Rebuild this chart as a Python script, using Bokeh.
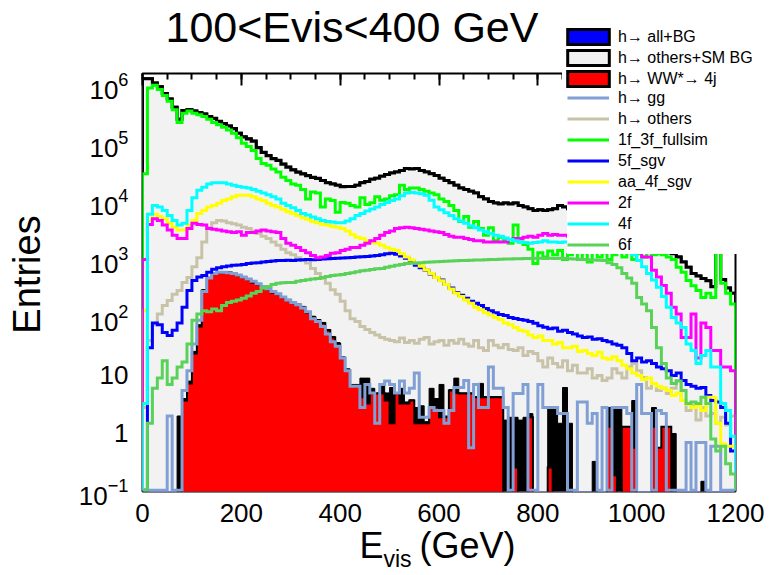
import numpy as np
from bokeh.plotting import figure
from bokeh.layouts import column
from bokeh.models import (Range1d, LinearAxis, FixedTicker, Legend, LegendItem, Label)
from bokeh.embed import file_html
from bokeh.resources import INLINE

# ---------------- data (10 GeV bins, 0..1200 GeV) ----------------
bin_edges = np.arange(0, 1210, 10)

total_all_bg = [
    1.3e6, 1.3e6, 1.1e6, 9.5e5, 7.2e5, 5.8e5, 4.2e5, 2.6e5, 3.7e5, 3.8e5,
    3.6e5, 3.4e5, 3.2e5, 2.9e5, 2.7e5, 2.4e5, 2.2e5, 2.0e5, 1.8e5, 1.5e5,
    1.3e5, 1.2e5, 1.1e5, 8.5e4, 7.0e4, 6.2e4, 5.5e4, 5.1e4, 4.4e4, 3.9e4,
    3.5e4, 3.2e4, 3.0e4, 2.8e4, 2.6e4, 2.5e4, 2.3e4, 2.1e4, 2.0e4, 1.9e4,
    1.8e4, 1.8e4, 1.8e4, 1.9e4, 2.1e4, 2.2e4, 2.4e4, 2.5e4, 2.7e4, 2.9e4,
    3.1e4, 3.2e4, 3.4e4, 3.7e4, 3.6e4, 3.7e4, 3.4e4, 3.2e4, 3.0e4, 2.8e4,
    2.5e4, 2.3e4, 2.1e4, 1.9e4, 1.7e4, 1.6e4, 1.5e4, 1.4e4, 1.2e4, 1.1e4,
    1.0e4, 9.4e3, 9.0e3, 9.4e3, 9.0e3, 9.4e3, 8.5e3, 8.0e3, 7.5e3, 7.0e3,
    7.2e3, 7.0e3, 7.2e3, 7.5e3, 8.5e3, 8.0e3, 7.5e3, 7.0e3, 7.0e3, 6.8e3,
    6.5e3, 6.2e3, 6.0e3, 5.8e3, 5.5e3, 5.2e3, 5.0e3, 4.6e3, 4.3e3, 4.0e3,
    3.6e3, 3.2e3, 2.8e3, 2.4e3, 2.0e3, 1.6e3, 1.3e3, 1.25e3, 1.1e3, 900,
    730, 570, 520, 470, 430, 340, 1.4e3, 450, 320, 260]

f1f_3f_fullsim = [
    3.0e4, 9.0e5, 1.0e6, 8.5e5, 6.7e5, 5.3e5, 3.8e5, 2.3e5, 3.3e5, 3.6e5,
    3.3e5, 3.1e5, 2.9e5, 2.6e5, 2.3e5, 2.1e5, 1.9e5, 1.7e5, 1.5e5, 1.25e5,
    1.0e5, 8.8e4, 7.5e4, 5.5e4, 4.5e4, 4.2e4, 3.6e4, 3.2e4, 2.6e4, 2.3e4,
    2.0e4, 1.9e4, 1.6e4, 1.1e4, 1.45e4, 1.4e4, 8.0e3, 1.1e4, 1.04e4, 6.5e3,
    9.6e3, 9.3e3, 8.5e3, 8.0e3, 1.15e4, 8.8e3, 9.5e3, 1.2e4, 1.05e4, 1.1e4,
    1.25e4, 1.3e4, 1.9e4, 1.6e4, 1.7e4, 1.7e4, 1.6e4, 1.5e4, 1.4e4, 1.3e4,
    1.1e4, 1.0e4, 8.5e3, 7.0e3, 4.5e3, 5.5e3, 3.6e3, 4.5e3, 3.4e3, 2.6e3,
    3.5e3, 2.1e3, 2.4e3, 2.2e3, 1.9e3, 3.9e3, 2.0e3, 1.8e3, 1.5e3, 850,
    1.3e3, 1.1e3, 1.4e3, 1.2e3, 1.43e3, 1.0e3, 1.2e3, 1.5e3, 1.0e3, 1.3e3,
    900, 1.4e3, 1.1e3, 1.3e3, 1.0e3, 1.2e3, 1.4e3, 1.1e3, 1.3e3, 1.0e3,
    1.25e3, 1.1e3, 1.3e3, 1.2e3, 1.25e3, 1.2e3, 1.1e3, 1.0e3, 730, 600,
    435, 350, 290, 220, 260, 220, 1.3e3, 390, 260, 170]

f4f = [
    3.3, 6.0e3, 8.5e3, 8.0e3, 7.0e3, 5.7e3, 4.7e3, 3.9e3, 4.2e3, 7.0e3,
    1.15e4, 1.55e4, 1.75e4, 2.0e4, 2.1e4, 2.1e4, 2.1e4, 2.0e4, 1.9e4, 1.8e4,
    1.75e4, 1.7e4, 1.6e4, 1.5e4, 1.4e4, 1.3e4, 1.2e4, 1.1e4, 9.3e3, 8.5e3,
    7.8e3, 7.0e3, 6.2e3, 5.8e3, 5.4e3, 5.0e3, 4.7e3, 4.5e3, 4.4e3, 4.3e3,
    4.3e3, 4.6e3, 5.0e3, 5.7e3, 6.2e3, 6.8e3, 7.4e3, 8.0e3, 8.8e3, 9.6e3,
    1.04e4, 1.1e4, 1.25e4, 1.4e4, 1.42e4, 1.4e4, 1.35e4, 1.27e4, 1.05e4, 8.0e3,
    7.2e3, 6.4e3, 5.7e3, 5.0e3, 4.6e3, 4.2e3, 3.8e3, 3.5e3, 3.2e3, 3.0e3,
    2.8e3, 2.6e3, 2.5e3, 2.35e3, 2.2e3, 2.1e3, 2.0e3, 1.95e3, 1.9e3, 1.95e3,
    2.0e3, 2.1e3, 2.0e3, 2.0e3, 1.95e3, 2.0e3, 2.0e3, 1.95e3, 2.0e3, 1.9e3,
    1.95e3, 1.9e3, 1.85e3, 1.8e3, 1.8e3, 1.7e3, 1.6e3, 1.5e3, 1.43e3, 1.2e3,
    960, 750, 570, 440, 330, 230, 150, 100, 80, 67,
    35, 27, 16, 22, 27, 14, 14, 3.3, 2.5, 0.9]

aa_4f_sgv = [
    130, 4.7e3, 6.0e3, 5.5e3, 5.0e3, 4.2e3, 3.6e3, 3.2e3, 3.2e3, 3.9e3,
    4.7e3, 6.2e3, 7.0e3, 8.0e3, 8.5e3, 9.3e3, 1.04e4, 1.1e4, 1.2e4, 1.27e4,
    1.27e4, 1.27e4, 1.2e4, 1.1e4, 1.04e4, 9.3e3, 8.5e3, 8.0e3, 7.3e3, 6.6e3,
    6.2e3, 5.7e3, 5.2e3, 4.9e3, 4.5e3, 4.3e3, 4.0e3, 3.9e3, 3.7e3, 3.6e3,
    3.4e3, 3.1e3, 2.7e3, 2.4e3, 2.3e3, 2.1e3, 2.0e3, 1.9e3, 1.75e3, 1.6e3,
    1.5e3, 1.43e3, 1.25e3, 1.1e3, 980, 870, 760, 660, 570, 490,
    430, 370, 310, 260, 230, 200, 175, 150, 135, 120,
    110, 100, 92, 80, 75, 67, 60, 58, 50, 45,
    48, 40, 40, 35, 37, 30, 30, 32, 26, 27,
    24, 22, 25, 20, 19, 21, 18, 15, 13, 11,
    10, 8.5, 9, 7.3, 6.5, 6, 5.5, 4.5, 5, 3.7,
    3.2, 2.8, 3, 2.5, 4.2, 4.2, 1.5, 0.66, 0.6, 0.6]

f2f = [
    1.0e3, 4.0e3, 5.0e3, 4.7e3, 3.9e3, 3.2e3, 2.6e3, 2.3e3, 2.3e3, 3.4e3,
    4.2e3, 4.0e3, 3.9e3, 3.4e3, 3.3e3, 3.2e3, 3.1e3, 3.0e3, 2.9e3, 3.0e3,
    2.6e3, 2.9e3, 2.9e3, 3.1e3, 3.2e3, 3.1e3, 3.0e3, 2.9e3, 2.3e3, 1.9e3,
    1.75e3, 1.6e3, 1.43e3, 1.3e3, 1.17e3, 1.07e3, 1.1e3, 1.17e3, 1.28e3, 1.3e3,
    1.43e3, 1.5e3, 1.6e3, 1.6e3, 1.75e3, 1.9e3, 2.1e3, 2.3e3, 2.6e3, 2.9e3,
    3.1e3, 3.4e3, 3.5e3, 3.6e3, 3.5e3, 3.4e3, 3.3e3, 3.2e3, 3.1e3, 3.0e3,
    2.9e3, 2.7e3, 2.5e3, 2.4e3, 2.4e3, 2.3e3, 2.2e3, 2.1e3, 2.1e3, 2.0e3,
    2.0e3, 2.0e3, 2.0e3, 2.0e3, 2.2e3, 2.3e3, 2.3e3, 2.4e3, 2.5e3, 2.4e3,
    2.6e3, 2.8e3, 2.6e3, 2.7e3, 2.6e3, 2.6e3, 2.5e3, 2.7e3, 2.6e3, 2.5e3,
    2.6e3, 2.4e3, 2.5e3, 2.4e3, 2.3e3, 2.3e3, 2.2e3, 2.0e3, 1.9e3, 1.7e3,
    1.43e3, 1.1e3, 1.1e3, 650, 500, 355, 260, 150, 115, 45,
    45, 115, 20, 80, 67, 27, 27, 14, 14, 12]

f5f_sgv = [
    0, 30, 80, 75, 55, 49, 60, 80, 150, 290,
    435, 500, 530, 600, 680, 720, 750, 770, 790, 800,
    820, 850, 870, 880, 900, 920, 940, 960, 960, 970,
    960, 980, 990, 1000, 990, 1000, 1020, 1030, 1040, 1050,
    1060, 1070, 1080, 1100, 1110, 1120, 1150, 1170, 1200, 1250,
    1280, 1230, 1150, 1050, 920, 790, 720, 650, 560, 490,
    440, 370, 320, 270, 240, 215, 190, 175, 160, 143,
    130, 120, 112, 108, 100, 96, 92, 89, 85, 79,
    72, 68, 64, 66, 58, 60, 55, 52, 48, 45,
    46, 42, 43, 40, 38, 35, 33, 30, 24, 18,
    20, 17, 18, 16, 14, 13, 12, 10, 11, 8.2,
    7, 6.5, 6, 6.2, 4.5, 3.7, 3.5, 2.8, 1.5, 0.5]

f6f = [
    0, 1.5, 6, 9, 18, 7, 9, 14, 17, 35,
    89, 115, 130, 125, 140, 130, 160, 180, 190, 200,
    215, 235, 260, 280, 320, 340, 370, 390, 395, 400,
    400, 420, 435, 445, 460, 470, 490, 510, 530, 540,
    550, 570, 590, 610, 640, 650, 670, 690, 700, 730,
    760, 790, 820, 850, 860, 870, 880, 890, 900, 910,
    920, 930, 940, 950, 960, 960, 970, 975, 980, 990,
    1000, 1000, 1010, 1020, 1020, 1030, 1030, 1040, 1040, 1050,
    1050, 1040, 1050, 1040, 1050, 1040, 1030, 1020, 1010, 1000,
    990, 980, 970, 960, 880, 820, 720, 570, 480, 390,
    220, 170, 130, 67, 30, 16, 9, 7.3, 8, 5.5,
    3.3, 3.5, 3.3, 4.2, 3.3, 0.8, 0.5, 0.6, 0.3, 0.2]

h_others = [
    2.8, 40, 75, 115, 160, 196, 250, 290, 400, 490,
    750, 1.07e3, 2.0e3, 3.5e3, 4.3e3, 4.7e3, 4.6e3, 4.3e3, 4.1e3, 3.9e3,
    3.6e3, 3.4e3, 3.1e3, 2.8e3, 2.5e3, 2.3e3, 2.0e3, 1.75e3, 1.5e3, 1.3e3,
    1.2e3, 1.07e3, 960, 870, 700, 570, 470, 390, 300, 250,
    190, 130, 95, 85, 70, 62, 55, 50, 45, 42,
    40, 38, 44, 37, 40, 36, 42, 45, 35, 38,
    40, 33, 40, 36, 42, 35, 32, 40, 30, 27,
    40, 33, 30, 34, 28, 27, 30, 22, 26, 24,
    18, 14, 20, 16, 14, 18, 12, 15, 11, 11,
    13, 9, 10, 8.2, 9, 13, 11, 9, 14, 16,
    12, 9.2, 6, 7.3, 5.5, 6, 4.9, 6, 8.2, 3.7,
    2.5, 3, 1.7, 2.8, 2, 2.2, 1.5, 1.9, 1.4, 2.0]

h_ww_4j = [
    0, 0, 0, 0, 0, 0, 0, 0, 3.7, 7.3,
    24, 70, 290, 480, 570, 590, 600, 600, 570, 530,
    490, 450, 400, 370, 330, 300, 270, 250, 220, 200,
    180, 165, 150, 120, 100, 89, 79, 60, 45, 35,
    20, 12, 6.7, 6.5, 4.2, 3.3, 4.9, 4.9, 4.9, 3.7,
    1.5, 4.9, 3.3, 3.3, 3.7, 1.5, 1.5, 1.5, 2.8, 2.8,
    1.9, 1.9, 5.5, 5.0, 4.9, 4.9, 4.9, 4.2, 4.2, 4.2,
    4.2, 4.2, 4.2, 0, 0, 0.26, 0, 0, 1.9, 0,
    0, 0, 0.26, 0, 0, 0, 0, 0, 0, 0,
    0, 0, 0, 0, 1.3, 0.19, 0, 1.3, 1.3, 0.57,
    0, 0, 0, 1.3, 0.57, 1.3, 1.3, 0, 0, 0,
    0, 0, 0, 0, 0, 0, 0, 0, 0, 0]

h_all_signal = [
    0, 0, 0, 0, 0, 0, 0, 2.0, 4.0, 8.0,
    26, 75, 300, 490, 580, 600, 610, 610, 580, 540,
    500, 460, 410, 380, 340, 310, 280, 255, 225, 205,
    185, 170, 155, 125, 105, 92, 82, 62, 47, 37,
    21, 13, 7, 7, 9, 9, 6, 5, 7, 5,
    6.2, 5, 6, 3.5, 3.8, 2.8, 3, 1.6, 6, 4,
    7, 2, 5.7, 9, 5, 5, 5, 4.3, 7.3, 4.3,
    4.3, 4.3, 4.3, 1.7, 1.9, 1.9, 1.7, 1.9, 2.2, 0,
    0, 0, 2.8, 2.8, 1.5, 6.2, 1.5, 0, 0, 0,
    0, 0.33, 0, 0, 2.8, 2.8, 2.8, 1.3, 1.3, 3.7,
    0, 0, 0, 2.8, 0.57, 1.3, 1.3, 1.0, 0, 0,
    0, 0, 0, 0.15, 0, 0, 0, 0, 0, 0]

h_gg = [
    0, 0, 0, 0, 0, 2.0, 0, 0, 5.5, 12,
    35, 89, 280, 480, 570, 600, 600, 590, 570, 540,
    500, 460, 420, 380, 340, 310, 280, 255, 225, 200,
    180, 165, 145, 125, 95, 85, 70, 52, 38, 32,
    20, 12, 6.5, 6.5, 2.8, 7, 5, 1.5, 7, 8,
    7, 5, 8, 5, 6, 11, 1.9, 1.9, 2.8, 2.5,
    2.5, 1.5, 2.5, 6.2, 6.2, 8.2, 0.57, 7, 2.8, 2.8,
    14, 6, 6, 2.8, 0, 4.9, 4.9, 7, 0, 0,
    7, 2.8, 2.8, 2.8, 2.2, 2.2, 0, 0, 3.5, 3.5,
    1.5, 2.2, 0, 2.8, 0, 2.8, 2.8, 2.8, 2.2, 0,
    7, 2.2, 2.2, 0, 2.5, 2.2, 0, 0, 0, 0,
    0.7, 0, 0.7, 0.7, 0, 0.6, 0.6, 0, 0, 0]

x_tick_values = [0, 200, 400, 600, 800, 1000, 1200]
x_minor_tick_values = list(range(0, 1201, 50))
y_tick_values = [0.1, 1, 10, 100, 1000, 1e4, 1e5, 1e6]
y_plain_labels = {1: "1", 10: "10"}

title_text = "100<Evis<400 GeV"
y_title = "Entries"
x_title_parts = ["E", "vis", "(GeV)"]

box_labels = ["h\u2192 all+BG", "h\u2192 others+SM BG", "h\u2192 WW*\u2192 4j"]
line_labels = ["h\u2192 gg", "h\u2192 others", "1f_3f_fullsim", "5f_sgv",
               "aa_4f_sgv", "2f", "4f", "6f"]
box_colors = ["#0000ff", "#f2f2f2", "#ff0000"]
line_colors = ["#809fd4", "#c8c3a8", "#00ff00", "#0000ff",
               "#ffff00", "#ff00ff", "#00ffff", "#5ad25a"]

# ---------------- helpers ----------------
LINE_FLOOR = 0.105
FILL_FLOOR = 1e-3
FONT = "Liberation Sans"
W, H = 771, 575

def step_outline(vals, floor):
    v = np.maximum(np.asarray(vals, dtype=float), floor)
    xs = np.repeat(bin_edges.astype(float), 2)
    ys = np.concatenate([[floor], np.repeat(v, 2), [floor]])
    return xs, ys

# ---------------- main plot ----------------
p = figure(width=W, height=H, x_range=Range1d(0, 1200),
           y_range=Range1d(0.1, 1.6e6), y_axis_type="log",
           output_backend="svg", toolbar_location=None,
           min_border_left=142, min_border_right=36,
           min_border_top=73, min_border_bottom=84)
p.frame_align = False
p.xgrid.visible = False
p.ygrid.visible = False
p.background_fill_color = "white"
p.border_fill_color = "white"
p.outline_line_color = "black"
p.outline_line_width = 2

xa = p.xaxis[0]
xa.ticker = FixedTicker(ticks=x_tick_values)
xa.major_tick_out = 0
xa.major_tick_in = 0
xa.minor_tick_out = 0
xa.minor_tick_in = 0
xa.axis_line_color = None
xa.major_label_text_font = FONT
xa.major_label_text_font_size = "26px"
xa.major_label_text_color = "black"
xa.major_label_standoff = 12

ya = p.yaxis[0]
ya.ticker = FixedTicker(ticks=y_tick_values)
ya.major_tick_out = 0
ya.major_tick_in = 0
ya.minor_tick_out = 0
ya.minor_tick_in = 0
ya.axis_line_color = None
ya.major_label_text_font = FONT
ya.major_label_text_font_size = "26px"
ya.major_label_text_color = "black"
ya.major_label_standoff = 14
ya.major_label_overrides = y_plain_labels

top = LinearAxis(ticker=FixedTicker(ticks=x_tick_values, minor_ticks=x_minor_tick_values),
                 major_tick_in=12, major_tick_out=0, minor_tick_in=6, minor_tick_out=0,
                 major_tick_line_width=2, minor_tick_line_width=2,
                 axis_line_color=None, major_label_text_font_size="1px",
                 major_label_text_color=None, major_label_standoff=0)
p.add_layout(top, "above")

# stacked background (all+BG, then others+SM BG on top)
xs, ys = step_outline(total_all_bg, FILL_FLOOR)
p.patch(xs, ys, fill_color=box_colors[0], line_color="black", line_width=3, line_join="miter")
bg_only = np.maximum(np.asarray(total_all_bg) - np.asarray(h_ww_4j) - np.asarray(h_gg), 0)
xs, ys = step_outline(bg_only, FILL_FLOOR)
p.patch(xs, ys, fill_color=box_colors[1], line_color="black", line_width=3, line_join="miter")

# signal
xs, ys = step_outline(h_all_signal, FILL_FLOOR)
p.patch(xs, ys, fill_color="black", line_color="black", line_width=1)
xs, ys = step_outline(h_ww_4j, FILL_FLOOR)
p.patch(xs, ys, fill_color=box_colors[2], line_color="black", line_width=2, line_join="miter")

line_data = [h_gg, h_others, f1f_3f_fullsim, f5f_sgv, aa_4f_sgv, f2f, f4f, f6f]
for vals, col in zip(line_data, line_colors):
    xs, ys = step_outline(vals, LINE_FLOOR)
    p.line(xs, ys, line_color=col, line_width=3, line_join="miter")

# ---------------- transparent overlay for texts and legend ----------------
ov = figure(width=W, height=H, x_range=Range1d(0, W), y_range=Range1d(0, H),
            x_axis_type=None, y_axis_type=None, output_backend="svg",
            toolbar_location=None, min_border=0, title=None,
            styles={"position": "absolute", "left": "0px", "top": "0px"})
ov.frame_align = False
ov.outline_line_color = None
ov.background_fill_alpha = 0
ov.border_fill_alpha = 0

# legend proxies: style-only renderers that draw nothing (NaN data)
nan = np.array([np.nan, np.nan])
box_r = [ov.patch(x=nan, y=nan, fill_color=c, line_color="black", line_width=3,
                  line_join="miter") for c in box_colors]
line_r = [ov.line(x=nan, y=nan, line_color=c, line_width=3) for c in line_colors]

leg_style = dict(background_fill_color="white", background_fill_alpha=1,
                 border_line_color=None, label_text_font=FONT, label_text_font_size="16px",
                 label_text_color="black", glyph_height=19, label_height=19,
                 label_width=140, spacing=2, padding=1, margin=0)
leg_a = Legend(items=[LegendItem(label=l, renderers=[r]) for l, r in zip(box_labels, box_r)],
               location=(562, H - 88), glyph_width=52, label_standoff=4, **leg_style)
leg_b = Legend(items=[LegendItem(label=l, renderers=[r]) for l, r in zip(line_labels, line_r)],
               location=(567, H - 254), glyph_width=42, label_standoff=9, **leg_style)
ov.add_layout(leg_b)
ov.add_layout(leg_a)

ov.add_layout(Label(text=title_text, x=165, y=H - 26, text_font=FONT,
                    text_font_size="43px", text_color="black",
                    text_baseline="alphabetic", text_align="left"))
ov.add_layout(Label(text=y_title, x=26, y=H - 274, angle=np.pi / 2, text_font=FONT,
                    text_font_size="38px", text_color="black",
                    text_baseline="alphabetic", text_align="center"))
ov.add_layout(Label(text=x_title_parts[0], x=359, y=H - 545, text_font=FONT,
                    text_font_size="36px", text_color="black",
                    text_baseline="alphabetic", text_align="left"))
ov.add_layout(Label(text=x_title_parts[1], x=383, y=H - 558, text_font=FONT,
                    text_font_size="23px", text_color="black",
                    text_baseline="alphabetic", text_align="left"))
ov.add_layout(Label(text=x_title_parts[2], x=419, y=H - 545, text_font=FONT,
                    text_font_size="36px", text_color="black",
                    text_baseline="alphabetic", text_align="left"))

page = column(p, ov, styles={"position": "relative"})
open("out.html", "w").write(file_html(page, INLINE))
